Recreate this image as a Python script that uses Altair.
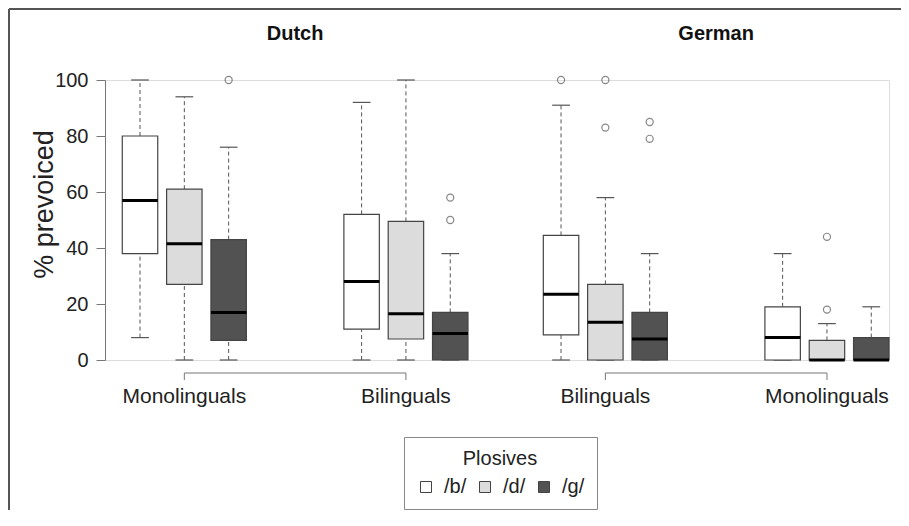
import altair as alt
import pandas as pd

panels = ["Dutch", "German"]
groups = [["Monolinguals", "Bilinguals"], ["Bilinguals", "Monolinguals"]]
plosives = ["/b/", "/d/", "/g/"]

# 12 boxes, ordered panel -> group -> plosive
whisker_low = [8, 0, 0, 0, 0, 0, 0, 0, 0, 0, 0, 0]
q1 = [38, 27, 7, 11, 7.5, 0, 9, 0, 0, 0, 0, 0]
median = [57, 41.5, 17, 28, 16.5, 9.5, 23.5, 13.5, 7.5, 8, 0, 0]
q3 = [80, 61, 43, 52, 49.5, 17, 44.5, 27, 17, 19, 7, 8]
whisker_high = [100, 94, 76, 92, 100, 38, 91, 58, 38, 38, 13, 19]
outliers = [[], [], [100], [], [], [58, 50], [100], [100, 83], [85, 79], [], [44, 18], []]

fill_colors = ["#ffffff", "#dcdcdc", "#525252"]

# layout: slot positions of boxes (R-style "at" positions)
PANEL_OFFSET = 9.5
GROUP_OFFSET = 5
HALF_BOX = 0.4
HALF_CAP = 0.2

rows, out_rows, grp_rows, pan_rows = [], [], [], []
i = 0
for p, panel in enumerate(panels):
    centers = []
    for g, grp in enumerate(groups[p]):
        for k, pl in enumerate(plosives):
            pos = p * PANEL_OFFSET + g * GROUP_OFFSET + k
            rows.append(dict(panel=panel, group=grp, plosive=pl, pos=pos,
                             bl=pos - HALF_BOX, br=pos + HALF_BOX,
                             cl=pos - HALF_CAP, cr=pos + HALF_CAP,
                             lo=whisker_low[i], q1=q1[i], med=median[i],
                             q3=q3[i], hi=whisker_high[i]))
            for o in outliers[i]:
                out_rows.append(dict(pos=pos, val=o, plosive=pl))
            i += 1
        c = p * PANEL_OFFSET + g * GROUP_OFFSET + 1
        centers.append(c)
        grp_rows.append(dict(panel=panel, label=grp, c=c))
    pan_rows.append(dict(panel=panel, a=centers[0], b=centers[1],
                         mid=p * PANEL_OFFSET + (GROUP_OFFSET + 2) / 2))

boxes = pd.DataFrame(rows)
outs = pd.DataFrame(out_rows)
grps = pd.DataFrame(grp_rows)
pans = pd.DataFrame(pan_rows)

xscale = alt.Scale(domain=[-0.79, 16.9], nice=False, zero=False)
yscale = alt.Scale(domain=[0, 100], nice=False, zero=False)
yaxis = alt.Axis(values=[0, 20, 40, 60, 80, 100], title="% prevoiced", grid=False,
                 tickSize=9, labelPadding=8, labelFontSize=20, labelColor="#222222",
                 domainColor="#777777", tickColor="#777777", titleFontSize=27,
                 titleFontWeight="normal", titleColor="#222222", titleX=-53, titleY=124,
                 titleBaseline="alphabetic", titleAlign="center", titleAngle=270)

X = lambda f: alt.X(f"{f}:Q", scale=xscale, axis=None)
Y = lambda f: alt.Y(f"{f}:Q", scale=yscale, axis=yaxis)

base = alt.Chart(boxes)
dash = [4, 3]
w_lo = base.mark_rule(color="#555555", strokeDash=dash, strokeWidth=1).encode(
    x=X("pos"), y=Y("lo"), y2="q1:Q")
w_hi = base.mark_rule(color="#555555", strokeDash=dash, strokeWidth=1).encode(
    x=X("pos"), y=Y("q3"), y2="hi:Q")
c_lo = base.mark_rule(color="#555555", strokeWidth=1.2).encode(
    x=X("cl"), x2="cr:Q", y=Y("lo"))
c_hi = base.mark_rule(color="#555555", strokeWidth=1.2).encode(
    x=X("cl"), x2="cr:Q", y=Y("hi"))
box = base.mark_rect(stroke="#444444", strokeWidth=1.2).encode(
    x=X("bl"), x2="br:Q", y=Y("q1"), y2="q3:Q",
    fill=alt.Fill("plosive:N", scale=alt.Scale(domain=plosives, range=fill_colors),
                  legend=alt.Legend(title="Plosives", orient="none", legendX=299, legendY=357,
                                    direction="horizontal", titleOrient="top",
                                    titleAnchor="middle", titleAlign="center",
                                    titleFontSize=20, titleFontWeight="normal",
                                    titleColor="#222222", titlePadding=8,
                                    labelFontSize=20, labelColor="#222222",
                                    symbolType="square", symbolSize=121,
                                    symbolStrokeColor="#444444", symbolStrokeWidth=1,
                                    labelOffset=8, columnPadding=8,
                                    strokeColor="#888888", padding=12)))
med = base.mark_rule(color="#000000", strokeWidth=3).encode(
    x=X("bl"), x2="br:Q", y=Y("med"))
pts = alt.Chart(outs).mark_point(shape="circle", filled=False, color="#555555",
                                 size=50, strokeWidth=1.2).encode(x=X("pos"), y=Y("val"))

bracket = alt.Chart(pans).mark_rule(color="#777777", strokeWidth=1).encode(
    x=X("a"), x2="b:Q", y=alt.value(293))
bticks = alt.Chart(grps).mark_rule(color="#777777", strokeWidth=1).encode(
    x=X("c"), y=alt.value(293), y2=alt.value(300))
glabels = alt.Chart(grps).mark_text(fontSize=21, color="#222222", baseline="alphabetic",
                                    font="Liberation Sans").encode(
    x=X("c"), y=alt.value(323), text="label:N")
ptitles = alt.Chart(pans).mark_text(fontSize=20, fontWeight="bold", color="#111111",
                                    baseline="alphabetic", font="Liberation Sans").encode(
    x=X("mid"), y=alt.value(-40), text="panel:N")

border_left = alt.Chart(pans).mark_rule(color="#555555", strokeWidth=2).encode(
    x=alt.value(-96), y=alt.value(-71), y2=alt.value(440))
border_top = alt.Chart(pans).mark_rule(color="#555555", strokeWidth=2).encode(
    x=alt.value(-96), x2=alt.value(800), y=alt.value(-71))

chart = alt.layer(
    border_left, border_top, w_lo, w_hi, c_lo, c_hi, box, med, pts,
    bracket, bticks, glabels, ptitles
).properties(
    width=784, height=280,
    autosize=alt.AutoSizeParams(type="none"),
    padding={"left": 97, "top": 72, "right": 12, "bottom": 150},
).configure_view(stroke=None).configure(font="Liberation Sans")

chart.save("out.html", embed_options={"renderer": "svg", "actions": False})
